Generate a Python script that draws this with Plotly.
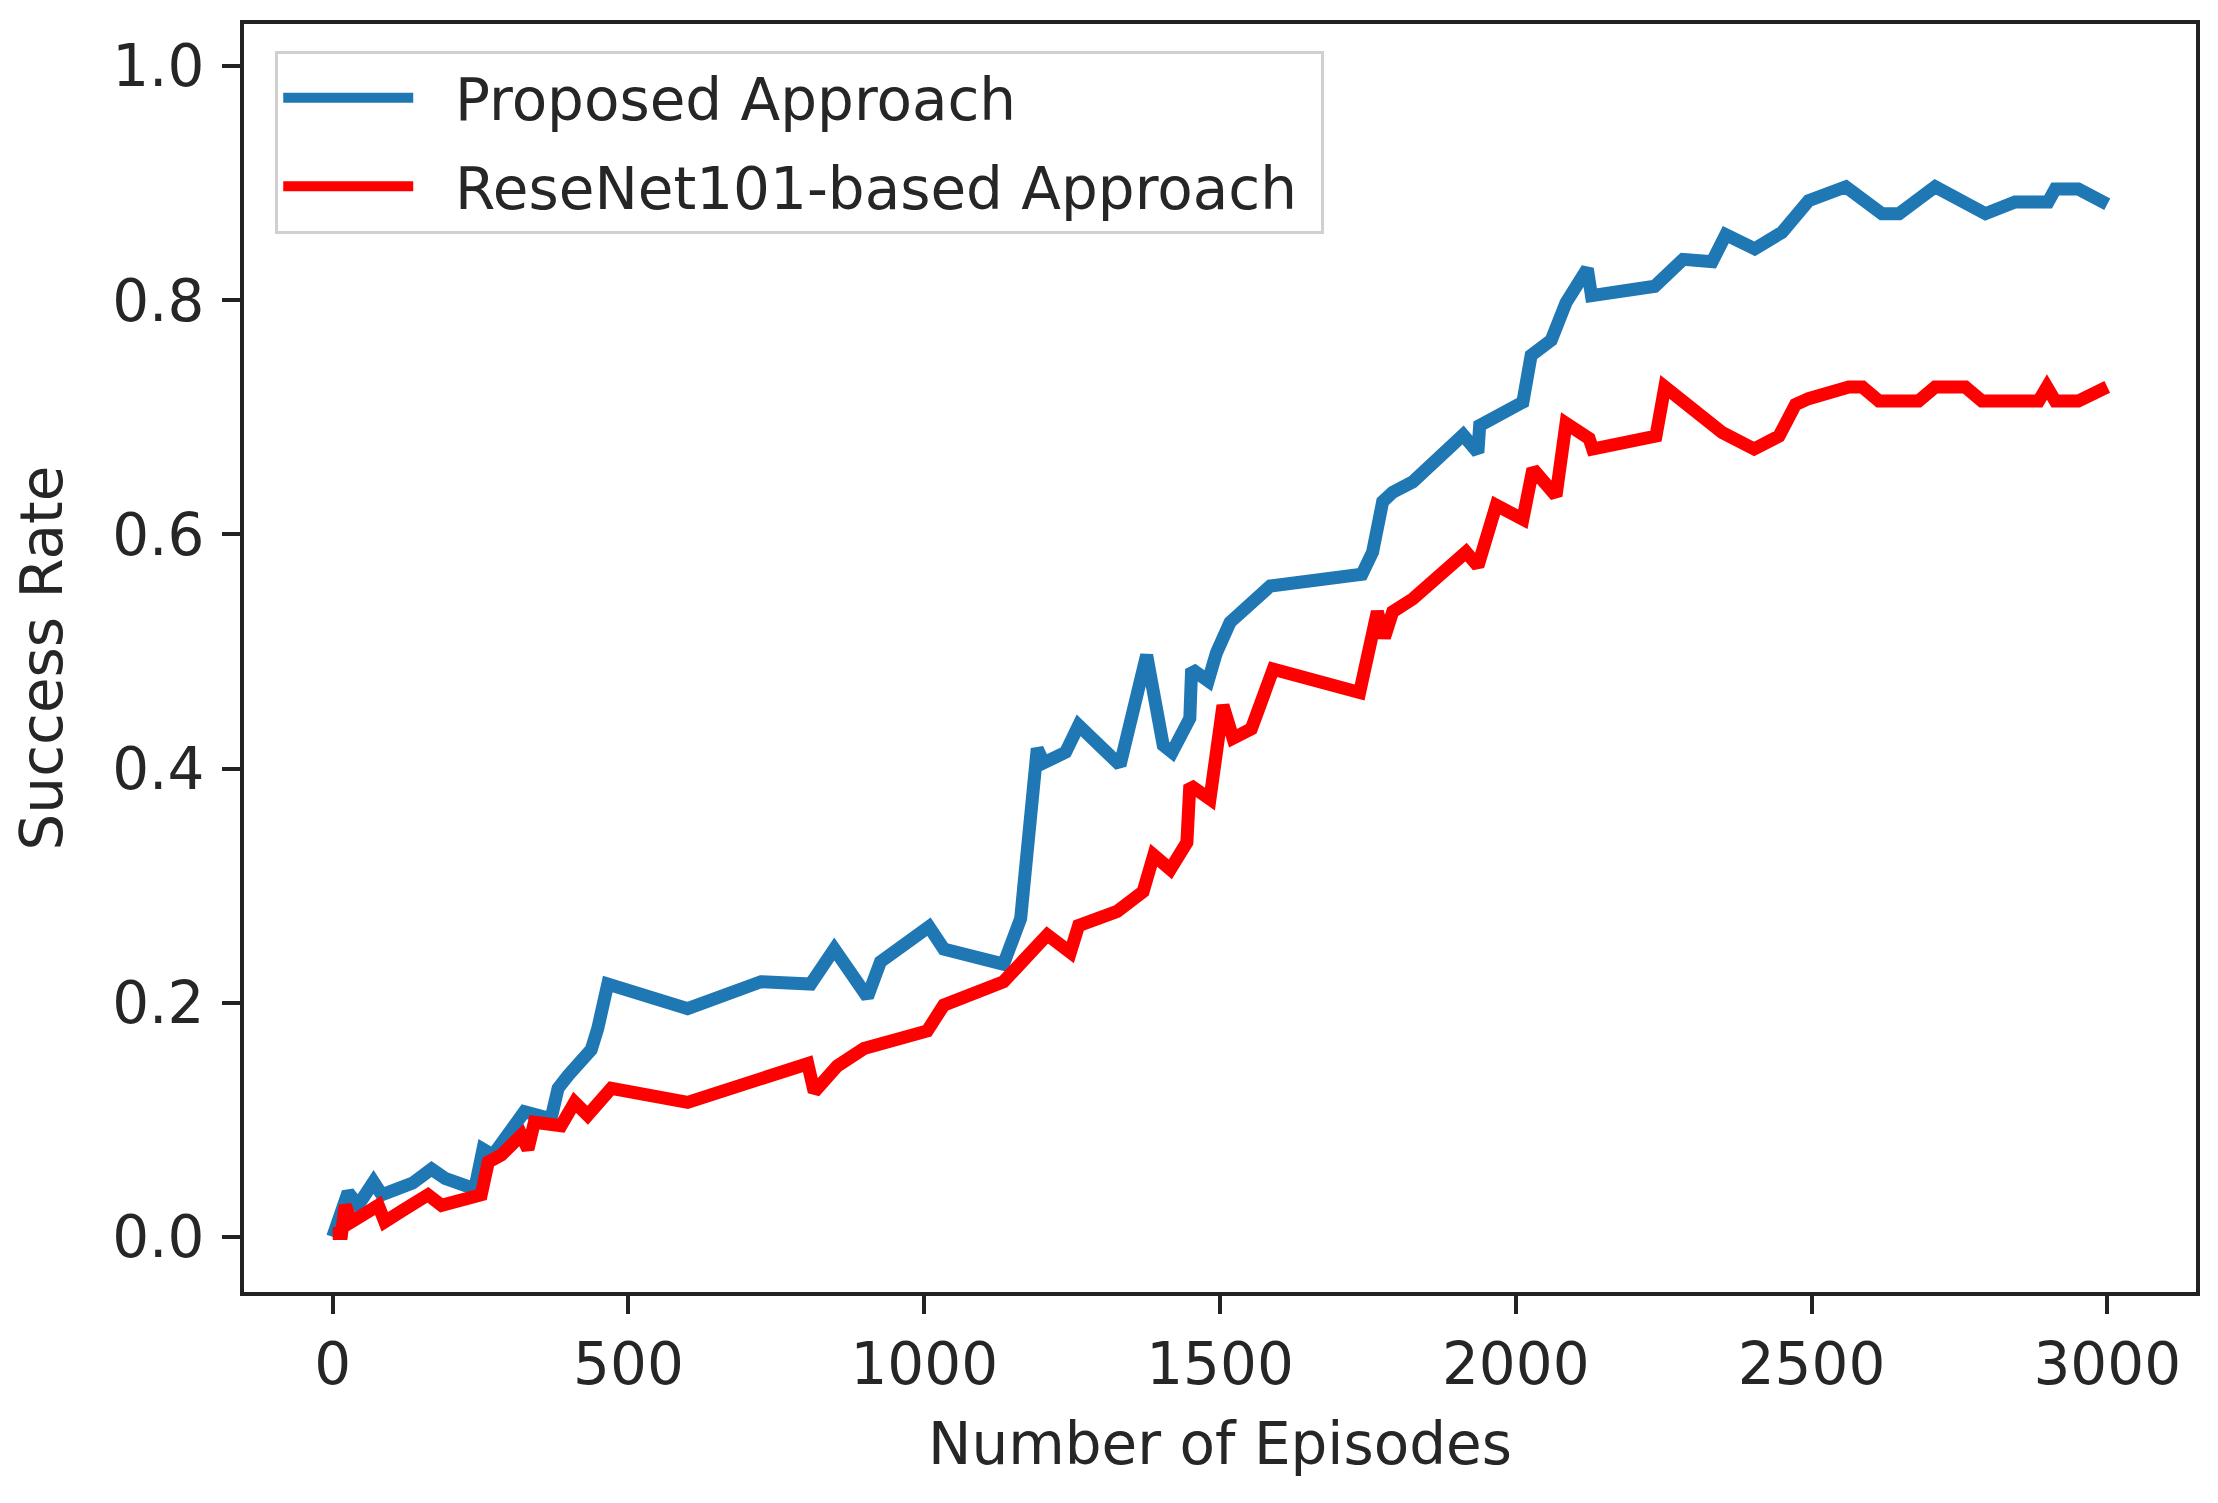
import plotly.graph_objects as go

# Proposed Approach (blue)
proposed_x = [0, 26, 43, 69, 83, 116, 135, 167, 190, 240, 254, 271, 324, 369, 381, 398, 426, 437, 448, 465,
              600, 724, 808, 848, 904, 926, 1008, 1033, 1134, 1163, 1191, 1202, 1239, 1261, 1331, 1376, 1404,
              1419, 1449, 1452, 1480, 1494, 1517, 1585, 1740, 1758, 1775, 1792, 1826, 1866, 1911, 1936, 1939,
              2012, 2026, 2060, 2085, 2121, 2128, 2235, 2283, 2332, 2355, 2404, 2450, 2495, 2558, 2619, 2648,
              2709, 2794, 2844, 2900, 2912, 2951, 3000]
proposed_y = [0.0, 0.038, 0.027, 0.047, 0.036, 0.044, 0.046, 0.058, 0.050, 0.041, 0.075, 0.070, 0.107, 0.101,
              0.127, 0.138, 0.152, 0.160, 0.178, 0.216, 0.195, 0.218, 0.216, 0.246, 0.205, 0.235, 0.265, 0.246,
              0.233, 0.272, 0.417, 0.405, 0.414, 0.437, 0.403, 0.497, 0.420, 0.414, 0.443, 0.485, 0.475, 0.499,
              0.525, 0.556, 0.566, 0.585, 0.628, 0.636, 0.645, 0.665, 0.685, 0.670, 0.693, 0.713, 0.753, 0.766,
              0.798, 0.827, 0.804, 0.812, 0.835, 0.833, 0.856, 0.844, 0.858, 0.885, 0.897, 0.874, 0.874, 0.897,
              0.874, 0.884, 0.884, 0.895, 0.895, 0.882]

# ReseNet101-based Approach (red)
resnet_x = [0, 15, 21, 32, 77, 88, 116, 161, 184, 251, 263, 285, 319, 330, 341, 386, 409, 431, 471, 600, 803,
            814, 853, 898, 1005, 1033, 1134, 1208, 1247, 1261, 1326, 1370, 1388, 1416, 1444, 1449, 1483, 1505,
            1522, 1553, 1590, 1736, 1766, 1778, 1792, 1826, 1916, 1936, 1967, 2012, 2029, 2068, 2085, 2124,
            2130, 2237, 2252, 2349, 2403, 2445, 2473, 2495, 2563, 2586, 2614, 2681, 2709, 2760, 2788, 2884,
            2898, 2912, 2951, 3000]
resnet_y = [0.003, 0.003, 0.027, 0.013, 0.027, 0.013, 0.022, 0.036, 0.027, 0.036, 0.064, 0.070, 0.087, 0.075,
            0.098, 0.095, 0.115, 0.104, 0.127, 0.115, 0.148, 0.124, 0.146, 0.161, 0.176, 0.198, 0.218, 0.258,
            0.243, 0.266, 0.278, 0.295, 0.326, 0.314, 0.337, 0.386, 0.374, 0.454, 0.426, 0.434, 0.485, 0.465,
            0.534, 0.512, 0.534, 0.545, 0.585, 0.573, 0.625, 0.613, 0.656, 0.633, 0.695, 0.682, 0.673, 0.684,
            0.726, 0.687, 0.673, 0.684, 0.711, 0.716, 0.726, 0.726, 0.714, 0.714, 0.726, 0.726, 0.714, 0.714,
            0.726, 0.714, 0.714, 0.726]

x_ticks = [0, 500, 1000, 1500, 2000, 2500, 3000]
y_ticks = [0.0, 0.2, 0.4, 0.6, 0.8, 1.0]

FONT = "DejaVu Sans"
FS = 58
TXT = "#262626"
NB = "\u00a0"

fig = go.Figure()
fig.add_trace(go.Scatter(x=proposed_x, y=proposed_y, mode="lines", name=NB * 2 + "Proposed Approach" + NB,
                         legendgroup="a", line=dict(color="#1f77b4", width=13)))
fig.add_trace(go.Scatter(x=resnet_x, y=resnet_y, mode="lines", name=NB * 2 + "ReseNet101-based Approach" + NB,
                         legendgroup="b", line=dict(color="#ff0000", width=13)))

axis_common = dict(showline=True, mirror=True, linecolor="#222222", linewidth=4,
                   ticks="outside", ticklen=18, tickwidth=4, tickcolor="#222222",
                   showgrid=False, zeroline=False,
                   tickfont=dict(family=FONT, size=FS, color=TXT))

fig.update_layout(
    width=2218, height=1503,
    margin=dict(l=236, r=30, t=14, b=219),
    paper_bgcolor="white", plot_bgcolor="white",
    font=dict(family=FONT, size=FS, color=TXT),
    xaxis=dict(range=[-150, 3150], tickvals=x_ticks, ticktext=[str(v) for v in x_ticks],
               title=dict(text="Number of Episodes", font=dict(family=FONT, size=FS, color=TXT), standoff=28),
               **axis_common),
    yaxis=dict(range=[-0.047, 1.036], tickvals=y_ticks, ticktext=[f"{v:.1f}" for v in y_ticks],
               ticklabelstandoff=6,
               title=dict(text="Success Rate", font=dict(family=FONT, size=FS, color=TXT), standoff=46),
               **axis_common),
    legend=dict(x=0.016, y=0.979, xanchor="left", yanchor="top",
                bgcolor="rgba(255,255,255,0.8)", bordercolor="#d0d0d0", borderwidth=3,
                font=dict(family=FONT, size=FS, color=TXT),
                itemwidth=130, tracegroupgap=10, traceorder="grouped"),
    showlegend=True,
)

fig.write_html("out.html")
